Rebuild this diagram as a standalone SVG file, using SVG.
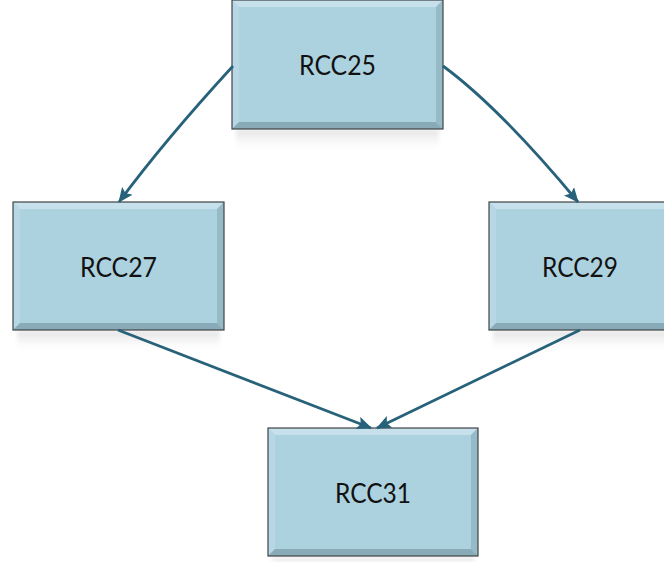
<svg xmlns="http://www.w3.org/2000/svg" width="664" height="562" viewBox="0 0 664 562">
  <defs>
    <marker id="arrow" viewBox="0 0 15 13" refX="14" refY="6.5" markerWidth="15" markerHeight="13" markerUnits="userSpaceOnUse" orient="auto">
      <path d="M0,0 L15,6.5 L0,13 L3,6.5 z" fill="#28627a"/>
    </marker>
    <linearGradient id="shade" x1="0" y1="0" x2="0" y2="1">
      <stop offset="0" stop-color="#c8c8c8" stop-opacity="0.55"/>
      <stop offset="1" stop-color="#ffffff" stop-opacity="0"/>
    </linearGradient>
    <filter id="soft" x="-10%" y="-50%" width="120%" height="200%">
      <feGaussianBlur stdDeviation="2"/>
    </filter>
  </defs>
  <style>
    .face { fill: #acd1df; }
    .bt { fill: #c6e1eb; }
    .bl { fill: #b6d7e3; }
    .br { fill: #97bac7; }
    .bb { fill: #89aab7; }
    .edge { fill: none; stroke: #3f4345; stroke-width: 1.2; }
    .refl { fill: url(#shade); filter: url(#soft); }
    .label { font-family: Lato, "Open Sans", "Liberation Sans", sans-serif; font-size: 26px; fill: #111111; text-anchor: middle; dominant-baseline: central; }
    .conn { fill: none; stroke: #28627a; stroke-width: 2.8; marker-end: url(#arrow); }
  </style>

  <rect width="664" height="562" fill="#ffffff"/>

  <!-- beveled boxes: face, four bevel strips, outline, soft shadow below -->
  <g id="rcc25">
    <rect class="refl" x="236" y="130" width="203" height="22"/>
    <rect class="face" x="232" y="0" width="211" height="129"/>
    <polygon class="bt" points="232,0 443,0 436,7 239,7"/>
    <polygon class="bl" points="232,0 239,7 239,122 232,129"/>
    <polygon class="br" points="443,0 443,129 436,122 436,7"/>
    <polygon class="bb" points="232,129 239,122 436,122 443,129"/>
    <rect class="edge" x="232" y="0" width="211" height="129"/>
    <text class="label" x="337.5" y="65" textLength="77" lengthAdjust="spacingAndGlyphs">RCC25</text>
  </g>

  <g id="rcc27">
    <rect class="refl" x="17" y="331" width="203" height="22"/>
    <rect class="face" x="13" y="202" width="211" height="128"/>
    <polygon class="bt" points="13,202 224,202 217,209 20,209"/>
    <polygon class="bl" points="13,202 20,209 20,323 13,330"/>
    <polygon class="br" points="224,202 224,330 217,323 217,209"/>
    <polygon class="bb" points="13,330 20,323 217,323 224,330"/>
    <rect class="edge" x="13" y="202" width="211" height="128"/>
    <text class="label" x="118.5" y="267" textLength="77" lengthAdjust="spacingAndGlyphs">RCC27</text>
  </g>

  <g id="rcc29">
    <rect class="refl" x="493" y="331" width="180" height="22"/>
    <rect class="face" x="489" y="202" width="182" height="128"/>
    <polygon class="bt" points="489,202 671,202 664,209 496,209"/>
    <polygon class="bl" points="489,202 496,209 496,323 489,330"/>
    <polygon class="br" points="671,202 671,330 664,323 664,209"/>
    <polygon class="bb" points="489,330 496,323 664,323 671,330"/>
    <rect class="edge" x="489" y="202" width="182" height="128"/>
    <text class="label" x="580" y="267" textLength="76" lengthAdjust="spacingAndGlyphs">RCC29</text>
  </g>

  <g id="rcc31">
    <rect class="refl" x="272" y="557" width="203" height="10"/>
    <rect class="face" x="268" y="428" width="210" height="128"/>
    <polygon class="bt" points="268,428 478,428 471,435 275,435"/>
    <polygon class="bl" points="268,428 275,435 275,549 268,556"/>
    <polygon class="br" points="478,428 478,556 471,549 471,435"/>
    <polygon class="bb" points="268,556 275,549 471,549 478,556"/>
    <rect class="edge" x="268" y="428" width="210" height="128"/>
    <text class="label" x="373" y="493" textLength="76" lengthAdjust="spacingAndGlyphs">RCC31</text>
  </g>

  <!-- connectors -->
  <g id="connectors">
    <path class="conn" d="M233,66 Q165,140 119,202"/>
    <path class="conn" d="M443,66 Q500,108 578,202"/>
    <path class="conn" d="M118,330 L371,428"/>
    <path class="conn" d="M580,330 L377,428"/>
  </g>
</svg>
